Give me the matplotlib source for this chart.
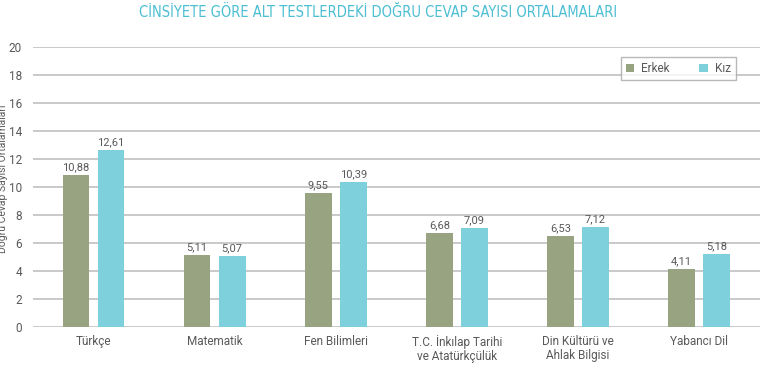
import numpy as np
import matplotlib.pyplot as plt
from matplotlib import font_manager as fm

# Datos
dersler = ['Türkçe', 'Matematik', 'Fen Bilimleri', 'T.C. İnkılap Tarihi\nve Atatürkçülük',
           'Din Kültürü ve\nAhlak Bilgisi', 'Yabancı Dil']
erkek = [10.88, 5.11, 9.55, 6.68, 6.53, 4.11]
kiz = [12.61, 5.07, 10.39, 7.09, 7.12, 5.18]
yticks = [0, 2, 4, 6, 8, 10, 12, 14, 16, 18, 20]

plt.rcParams['font.family'] = ['Roboto', 'DejaVu Sans']

renk_erkek = '#98A382'
renk_kiz = '#7ED0DC'
gri = '#595959'

# Buscar una fuente estrecha para el título
fuente_titulo = None
for f in fm.fontManager.ttflist:
    if 'Narrow' in f.fname or 'Condensed' in f.fname:
        if 'Bold' not in f.fname and 'Italic' not in f.fname and 'Oblique' not in f.fname:
            fuente_titulo = fm.FontProperties(fname=f.fname, size=10.5)
            break
if fuente_titulo is None:
    fuente_titulo = fm.FontProperties(family='Roboto', size=9)

fig = plt.figure(figsize=(7.72, 3.69), dpi=100)
ax = fig.add_axes([0.0427, 0.1138, 0.9413, 0.7588])

x = np.arange(len(dersler))
w = 0.22
b1 = ax.bar(x - 0.145, erkek, w, color=renk_erkek, label='Erkek', zorder=3)
b2 = ax.bar(x + 0.145, kiz, w, color=renk_kiz, label='Kız', zorder=3)

# Etiquetas de valores
for barras in (b1, b2):
    for b in barras:
        v = b.get_height()
        ax.annotate(f'{v:.2f}'.replace('.', ','), (b.get_x() + b.get_width() / 2, v),
                    xytext=(0, 2), textcoords='offset points', ha='center', va='bottom',
                    fontsize=8, color=gri)

ax.set_xlim(-0.5, len(dersler) - 0.5)
ax.set_ylim(0, 20)
ax.set_yticks(yticks)
ax.set_yticklabels([str(t) for t in yticks], fontsize=8.5, color=gri)
ax.set_xticks(x)
ax.set_xticklabels(dersler, fontsize=8.5, color=gri, linespacing=1.1)
ax.tick_params(axis='both', length=0, pad=8)
ax.tick_params(axis='x', pad=6)

ax.grid(axis='y', color='#C0C0C0', linewidth=1.2, zorder=0)
for s in ax.spines.values():
    s.set_visible(False)

# La etiqueta del eje queda cortada en el borde, como en el original
ax.set_ylabel('Doğru Cevap Sayısı Ortalamaları', fontsize=7.5, color=gri)
ax.yaxis.set_label_coords(-0.034, 0.53)

leg = ax.legend(loc='upper right', bbox_to_anchor=(0.975, 0.985), ncol=2, fontsize=8.5,
                frameon=True, fancybox=False, edgecolor='#A6A6A6', handlelength=0.7,
                handleheight=0.7, columnspacing=2.5, borderpad=0.4, handletextpad=0.6)
leg.get_frame().set_linewidth(1.0)
for t in leg.get_texts():
    t.set_color(gri)

fig.text(0.49, 0.965, 'CİNSİYETE GÖRE ALT TESTLERDEKİ DOĞRU CEVAP SAYISI ORTALAMALARI',
         ha='center', va='center', color='#4DBFD3', fontproperties=fuente_titulo)

fig.savefig('out.png', dpi=100)
